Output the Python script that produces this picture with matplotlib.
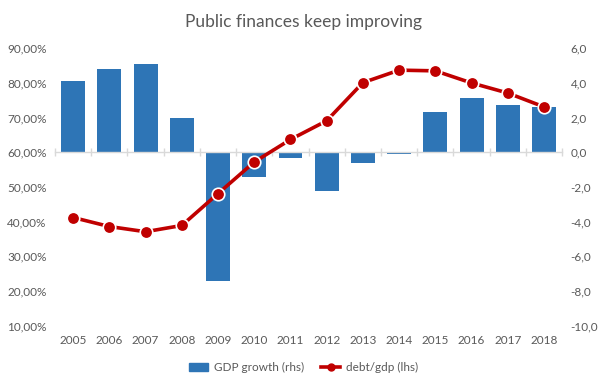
import matplotlib
matplotlib.use("Agg")
import matplotlib.pyplot as plt
from matplotlib.ticker import FuncFormatter, FixedLocator
from matplotlib.lines import Line2D
from matplotlib.patches import Patch

plt.rcParams['font.family'] = ['Lato', 'DejaVu Sans']

years = ['2005', '2006', '2007', '2008', '2009', '2010', '2011',
         '2012', '2013', '2014', '2015', '2016', '2017', '2018']
gdp_growth = [4.1, 4.8, 5.1, 2.0, -7.4, -1.4, -0.35,
              -2.25, -0.6, -0.1, 2.3, 3.15, 2.75, 2.6]
debt_gdp = [41.2, 38.6, 37.1, 38.9, 48.1, 57.2, 63.7,
            69.1, 80.1, 83.7, 83.5, 80.0, 77.1, 73.1]

grey = '#595959'
blue = '#2E75B6'
red = '#C00000'

fig = plt.figure(figsize=(6.07, 3.88), dpi=100)
ax = fig.add_axes([0.0906, 0.1606, 0.8355, 0.7149])
ax2 = ax.twinx()
ax2.xaxis.set_visible(True)

x = list(range(len(years)))

# bars on the right axis, drawn behind the line
ax2.bar(x, gdp_growth, width=0.66, color=blue, zorder=2)
ax2.set_ylim(-10, 6)
ax2.set_yticks(range(-10, 7, 2))
ax2.yaxis.set_major_formatter(FuncFormatter(lambda v, p: f"{v:.1f}".replace('.', ',')))

ax.plot(x, debt_gdp, color=red, lw=2.6, marker='o', markersize=9,
        markerfacecolor=red, markeredgecolor='white', markeredgewidth=1.2, zorder=5)
ax.set_ylim(10, 90)
ax.set_yticks(range(10, 91, 10))
ax.yaxis.set_major_formatter(FuncFormatter(lambda v, p: f"{v:.2f}%".replace('.', ',')))

ax.set_zorder(ax2.get_zorder() + 1)
ax.patch.set_visible(False)

ax.set_xlim(-0.5, len(years) - 0.5)
ax.set_xticks(x)
ax.set_xticklabels(years)
ax.xaxis.set_minor_locator(FixedLocator([i - 0.5 for i in range(len(years) + 1)]))

for a in (ax, ax2):
    for s in a.spines.values():
        s.set_visible(False)

# category axis drawn at zero of the rhs scale
ax2.spines['bottom'].set_visible(True)
ax2.spines['bottom'].set_position(('data', 0))
ax2.spines['bottom'].set_color('#d9d9d9')
ax2.spines['bottom'].set_linewidth(1.0)
ax2.tick_params(axis='x', which='major', length=0, labelbottom=False)
ax2.tick_params(axis='x', which='minor', length=6, direction='inout',
                color='#d9d9d9', width=1.0, bottom=True, labelbottom=False)

ax.tick_params(axis='x', which='both', length=0, pad=7, labelsize=8.5, labelcolor=grey)
ax.tick_params(axis='y', length=0, pad=6, labelsize=8.5, labelcolor=grey)
ax2.tick_params(axis='y', length=0, pad=6, labelsize=8.5, labelcolor=grey)

fig.suptitle('Public finances keep improving', y=0.965, fontsize=12.5, color=grey)

handles = [Patch(color=blue, label='GDP growth (rhs)'),
           Line2D([], [], color=red, lw=2.6, marker='o', markersize=5,
                  markerfacecolor=red, markeredgecolor=red, label='debt/gdp (lhs)')]
fig.legend(handles=handles, loc='center', bbox_to_anchor=(0.5, 0.053), ncol=2,
           frameon=False, fontsize=8.5, labelcolor=grey, handlelength=1.6,
           handleheight=0.6, handletextpad=0.5, columnspacing=1.5, numpoints=1)

fig.savefig('out.png', dpi=100)
